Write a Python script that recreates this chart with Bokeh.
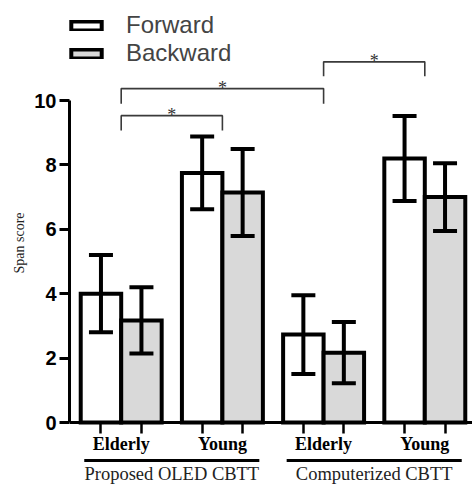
from bokeh.plotting import figure
from bokeh.models import (ColumnDataSource, Range1d, FixedTicker, Whisker, TeeHead,
                          Legend, LegendItem)
from bokeh.embed import file_html
from bokeh.resources import INLINE
from bokeh.core.properties import value

# ---------------- data ----------------
ages = ["Elderly", "Young", "Elderly", "Young"]
tests = ["Proposed OLED CBTT", "Computerized CBTT"]
series = ["Forward", "Backward"]
forward = [4.0, 7.75, 2.73, 8.2]
forward_sd = [1.2, 1.13, 1.22, 1.32]
backward = [3.17, 7.14, 2.17, 7.0]
backward_sd = [1.03, 1.35, 0.95, 1.05]
y_ticks = [0, 2, 4, 6, 8, 10]
# significance brackets: from group index, to group index, leg bottom, top
sig_from = [0, 0, 2]
sig_to = [1, 2, 3]
sig_low = [9.07, 9.9, 10.75]
sig_high = [9.53, 10.37, 11.2]
sig_text = ["*", "*", "*"]

# ---------------- layout ----------------
W, H = 472, 485
LEFT = 69            # y axis position (px)
ZERO_Y = 422         # px of value 0 from the top
PX_PER_UNIT_Y = 32.2
PX_PER_GROUP = 101.2
FIRST_CENTER = 120.7  # px of group 0 center
BAR_W = 0.4
OFF = 0.2

x_start = (LEFT - FIRST_CENTER) / PX_PER_GROUP
x_end = (W - FIRST_CENTER) / PX_PER_GROUP
y_end = ZERO_Y / PX_PER_UNIT_Y
y_start = -(H - ZERO_Y) / PX_PER_UNIT_Y


def below(px):
    return -px / PX_PER_UNIT_Y


gidx = list(range(len(ages)))
xf = [g - OFF for g in gidx]
xb = [g + OFF for g in gidx]

p = figure(width=W, height=H, output_backend="svg", toolbar_location=None,
           x_range=Range1d(x_start, x_end), y_range=Range1d(y_start, y_end),
           min_border_left=LEFT, min_border_right=0, min_border_top=0,
           min_border_bottom=0)
p.outline_line_color = None
p.xgrid.visible = False
p.ygrid.visible = False
p.background_fill_color = "white"
p.border_fill_color = "white"

src_f = ColumnDataSource(dict(x=xf, top=forward,
                              upper=[v + s for v, s in zip(forward, forward_sd)],
                              lower=[v - s for v, s in zip(forward, forward_sd)]))
src_b = ColumnDataSource(dict(x=xb, top=backward,
                              upper=[v + s for v, s in zip(backward, backward_sd)],
                              lower=[v - s for v, s in zip(backward, backward_sd)]))

rf = p.vbar(x="x", top="top", bottom=0, width=BAR_W, source=src_f,
            fill_color="white", line_color="black", line_width=4, line_join="miter")
rb = p.vbar(x="x", top="top", bottom=0, width=BAR_W, source=src_b,
            fill_color="#d9d9d9", line_color="black", line_width=4, line_join="miter")

for src in (src_f, src_b):
    w = Whisker(source=src, base="x", upper="upper", lower="lower",
                dimension="height", line_width=4, line_color="black",
                upper_head=TeeHead(size=24, line_width=4, line_color="black"),
                lower_head=TeeHead(size=24, line_width=4, line_color="black"))
    w.level = "annotation"
    p.add_layout(w)

# significance brackets
bxs = [[a, a, b, b] for a, b in zip(sig_from, sig_to)]
bys = [[lo, hi, hi, lo] for lo, hi in zip(sig_low, sig_high)]
p.multi_line(xs=bxs, ys=bys, line_color="#3a3a3a", line_width=1.6)
p.text(x=[(a + b) / 2 for a, b in zip(sig_from, sig_to)], y=sig_high, text=sig_text,
       text_font=value("Liberation Serif"), text_font_size="18px",
       text_align="center", text_baseline="alphabetic", text_color="#333333", y_offset=-1)

# y axis
p.yaxis.ticker = FixedTicker(ticks=y_ticks)
p.yaxis.bounds = (0, 10)
p.yaxis.axis_line_width = 3
p.yaxis.major_tick_line_width = 3
p.yaxis.major_tick_out = 10
p.yaxis.major_tick_in = 0
p.yaxis.minor_tick_line_color = None
p.yaxis.major_label_text_font = "Liberation Sans"
p.yaxis.major_label_text_font_style = "bold"
p.yaxis.major_label_text_font_size = "20px"
p.yaxis.major_label_text_color = "black"
p.yaxis.major_label_standoff = 3
p.yaxis.axis_label = "Span score"
p.yaxis.axis_label_text_font = "Liberation Serif"
p.yaxis.axis_label_text_font_style = "normal"
p.yaxis.axis_label_text_font_size = "14px"
p.yaxis.axis_label_text_color = "#222222"
p.yaxis.axis_label_standoff = 4

# x axis sits at y = 0; group labels as major ticks, bar ticks as minor ticks
xa = p.xaxis[0]
xa.fixed_location = 0
xa.ticker = FixedTicker(ticks=gidx, minor_ticks=sorted(xf + xb))
xa.major_label_overrides = {g: a for g, a in zip(gidx, ages)}
xa.axis_line_width = 3
xa.major_tick_line_color = None
xa.major_tick_out = 0
xa.major_tick_in = 0
xa.minor_tick_line_color = "black"
xa.minor_tick_line_width = 2.5
xa.minor_tick_out = 11
xa.minor_tick_in = 0
xa.major_label_standoff = 0
xa.major_label_text_font = "Liberation Serif"
xa.major_label_text_font_style = "bold"
xa.major_label_text_font_size = "18px"
xa.major_label_text_color = "black"

# test names with underline
tcent = [(gidx[2 * i] + gidx[2 * i + 1]) / 2 for i in range(len(tests))]
p.segment(x0=[c - 0.865 for c in tcent], x1=[c + 0.865 for c in tcent],
          y0=below(38), y1=below(38), line_width=3, line_color="black")
p.text(x=tcent, y=below(51), text=tests, text_font=value("Liberation Serif"),
       text_font_size="18.5px", text_align="center", text_baseline="middle",
       text_color="#222222")

legend = Legend(items=[LegendItem(label=series[0], renderers=[rf]),
                       LegendItem(label=series[1], renderers=[rb])],
                location=(-2, 418), glyph_width=38, glyph_height=11,
                label_text_font="Liberation Sans", label_text_font_size="24px",
                label_standoff=21, spacing=0, padding=0, margin=0,
                label_height=24, border_line_alpha=0, background_fill_alpha=0)
p.add_layout(legend)

open("out.html", "w").write(file_html(p, INLINE))
